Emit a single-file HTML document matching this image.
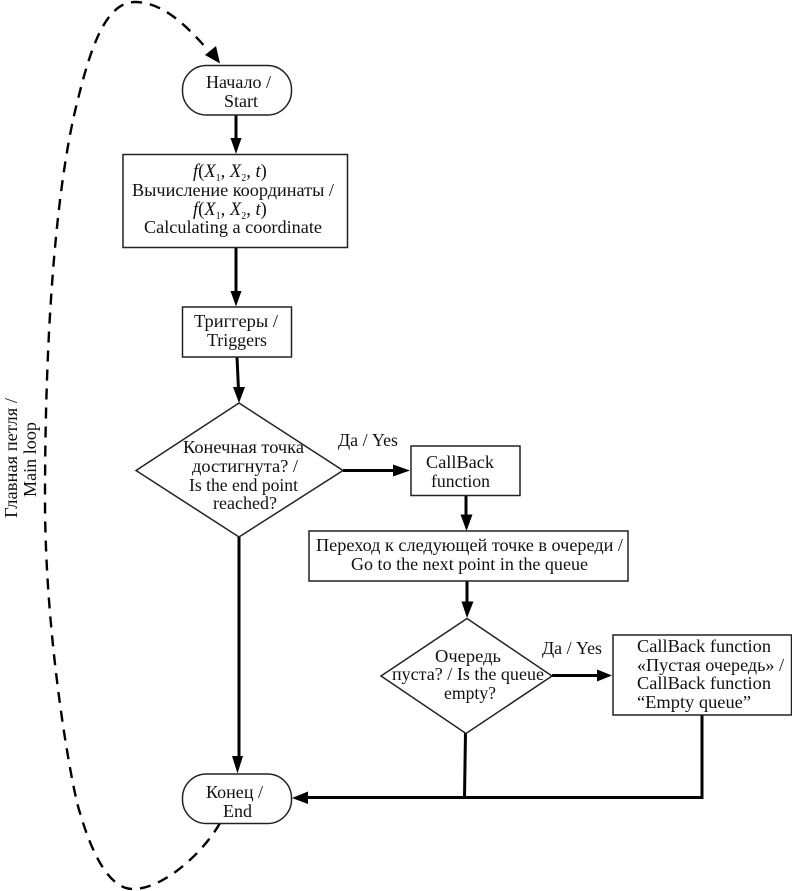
<!DOCTYPE html>
<html>
<head>
<meta charset="utf-8">
<style>
html,body{margin:0;padding:0;background:#fff;width:792px;height:891px;overflow:hidden}
svg{display:block}
text{font-family:"Liberation Serif","Noto Serif CJK SC",serif;font-size:17.5px;fill:#111}
.s{fill:#fff;stroke:#222;stroke-width:1.5}
.l{fill:none;stroke:#000;stroke-width:3}
.h{fill:#000;stroke:none}
</style>
</head>
<body>
<svg width="792" height="891" viewBox="0 0 792 891" xmlns="http://www.w3.org/2000/svg">
<!-- dashed loop -->
<path d="M220 823 C205 850,165 889,133 889 C105 889,88 840,80 813 C72 790,45 640,45 500 C45 300,60 170,77 103 C90 50,105 2,135 2 C165 2,190 30,208 50" fill="none" stroke="#000" stroke-width="2.4" stroke-dasharray="11 8"/>
<polygon class="h" points="220,63.5 205,55 216,46"/>

<!-- connectors -->
<path class="l" d="M236 115V140"/>
<polygon class="h" points="230.500,138 241.500,138 236,154"/>
<path class="l" d="M236 247V294"/>
<polygon class="h" points="230.500,291 241.500,291 236,306.500"/>
<path class="l" d="M237 357L238.500 390"/>
<polygon class="h" points="233,387 245,387 239,403"/>
<path class="l" d="M239 537V759"/>
<polygon class="h" points="232,756 243,756 237.500,773.500"/>
<path class="l" d="M343 470.500H395"/>
<polygon class="h" points="393,464.500 393,476.500 410,470.500"/>
<path class="l" d="M466 495V517"/>
<polygon class="h" points="460.500,514.500 472.500,514.500 466.500,531"/>
<path class="l" d="M467 581V604"/>
<polygon class="h" points="461.500,601.500 473.500,601.500 467,618"/>
<path class="l" d="M552 675.500H599"/>
<polygon class="h" points="597,669.500 597,681.500 612,675.500"/>
<path class="l" d="M465.500 733L464.500 797"/>
<path class="l" d="M702 715V797.500H306"/>
<polygon class="h" points="308,791.500 308,804 292,798"/>

<!-- shapes -->
<rect class="s" x="182.500" y="65.500" width="109" height="49.500" rx="24" ry="24"/>
<rect class="s" x="123" y="154.500" width="224.500" height="93"/>
<rect class="s" x="182.500" y="307" width="109" height="50"/>
<polygon class="s" points="239,403 343,470.500 239,537 136,470.500"/>
<rect class="s" x="411" y="446" width="109" height="49.500"/>
<rect class="s" x="309" y="531" width="319" height="50"/>
<polygon class="s" points="467,618.500 552,676 466,733.500 381,676"/>
<rect class="s" x="613" y="635" width="178.500" height="80"/>
<rect class="s" x="182.500" y="774" width="109" height="49.500" rx="24" ry="24"/>

<!-- labels -->
<text x="206" y="88" textLength="65" lengthAdjust="spacingAndGlyphs">Начало /</text>
<text x="224" y="107" textLength="34" lengthAdjust="spacingAndGlyphs">Start</text>

<text x="193" y="177" font-style="italic" style="font-size:18.500px"><tspan font-style="italic">f</tspan><tspan font-style="normal">(</tspan>X<tspan dy="4" font-size="10" font-style="normal">1</tspan><tspan dy="-4" font-style="normal">, </tspan>X<tspan dy="4" font-size="10" font-style="normal">2</tspan><tspan dy="-4" font-style="normal">, </tspan>t<tspan font-style="normal">)</tspan></text>
<text x="132" y="196" textLength="202" lengthAdjust="spacingAndGlyphs">Вычисление координаты /</text>
<text x="193" y="215" font-style="italic" style="font-size:18.500px"><tspan font-style="italic">f</tspan><tspan font-style="normal">(</tspan>X<tspan dy="4" font-size="10" font-style="normal">1</tspan><tspan dy="-4" font-style="normal">, </tspan>X<tspan dy="4" font-size="10" font-style="normal">2</tspan><tspan dy="-4" font-style="normal">, </tspan>t<tspan font-style="normal">)</tspan></text>
<text x="144" y="233" textLength="178" lengthAdjust="spacingAndGlyphs">Calculating a coordinate</text>

<text x="194" y="327" textLength="84" lengthAdjust="spacingAndGlyphs">Триггеры /</text>
<text x="207" y="346" textLength="60" lengthAdjust="spacingAndGlyphs">Triggers</text>

<text x="183" y="453" textLength="121" lengthAdjust="spacingAndGlyphs">Конечная точка</text>
<text x="192" y="472" textLength="106" lengthAdjust="spacingAndGlyphs">достигнута? /</text>
<text x="189" y="491" textLength="109" lengthAdjust="spacingAndGlyphs">Is the end point</text>
<text x="213" y="509" textLength="64" lengthAdjust="spacingAndGlyphs">reached?</text>

<text x="338" y="446" textLength="60" lengthAdjust="spacingAndGlyphs">Да / Yes</text>
<text x="426" y="468" textLength="68" lengthAdjust="spacingAndGlyphs">CallBack</text>
<text x="431" y="487" textLength="59" lengthAdjust="spacingAndGlyphs">function</text>

<text x="316" y="551" textLength="307" lengthAdjust="spacingAndGlyphs">Переход к следующей точке в очереди /</text>
<text x="351" y="570" textLength="237" lengthAdjust="spacingAndGlyphs">Go to the next point in the queue</text>

<text x="435" y="662" textLength="66" lengthAdjust="spacingAndGlyphs">Очередь</text>
<text x="392" y="680" textLength="152" lengthAdjust="spacingAndGlyphs">пуста? / Is the queue</text>
<text x="444" y="699" textLength="52" lengthAdjust="spacingAndGlyphs">empty?</text>

<text x="542" y="654" textLength="60" lengthAdjust="spacingAndGlyphs">Да / Yes</text>

<text x="637" y="652" textLength="134" lengthAdjust="spacingAndGlyphs">CallBack function</text>
<text x="637" y="671" textLength="147" lengthAdjust="spacingAndGlyphs">«Пустая очередь» /</text>
<text x="637" y="689" textLength="134" lengthAdjust="spacingAndGlyphs">CallBack function</text>
<text x="637" y="708" textLength="114" lengthAdjust="spacingAndGlyphs">“Empty queue”</text>

<text x="206" y="798" textLength="57" lengthAdjust="spacingAndGlyphs">Конец /</text>
<text x="223" y="817" textLength="29" lengthAdjust="spacingAndGlyphs">End</text>

<text transform="translate(17,518) rotate(-90)" textLength="120" lengthAdjust="spacingAndGlyphs">Главная петля /</text>
<text transform="translate(36,497) rotate(-90)" textLength="75" lengthAdjust="spacingAndGlyphs">Main loop</text>
</svg>
</body>
</html>
